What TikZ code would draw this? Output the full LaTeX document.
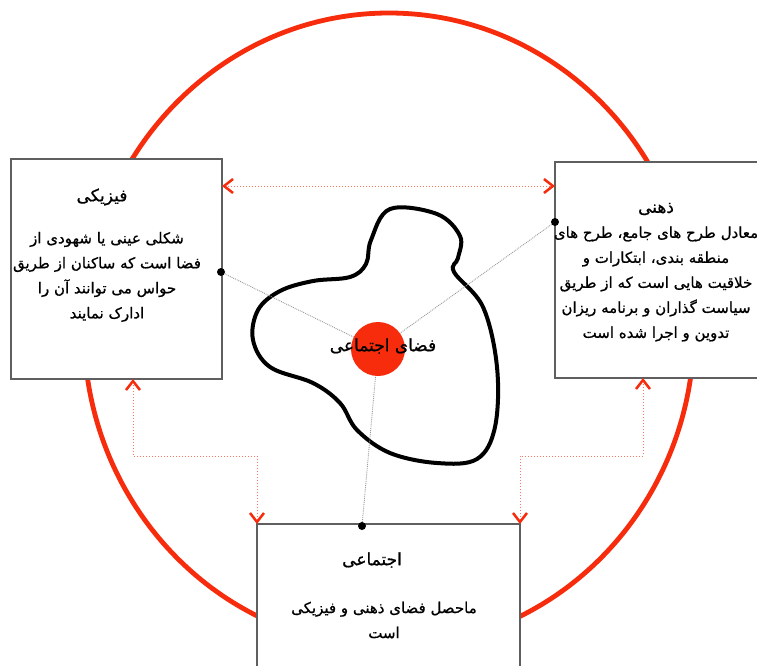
\documentclass[tikz,border=0pt]{standalone}
\usepackage{fontspec}
\usetikzlibrary{arrows.meta}
\TeXXeTstate=1
\newfontfamily\pfont[Script=Arabic,FakeBold=0.7]{DejaVu Sans}
\newcommand\myR[1]{\beginR #1\endR}
\definecolor{cred}{RGB}{246,44,12}
\definecolor{boxgray}{RGB}{95,95,95}
\tikzset{
  boxnode/.style={draw=boxgray, line width=1.5pt, fill=white, rectangle, inner sep=0pt},
  txt/.style={align=center, inner sep=0pt, font=\pfont\fontsize{15}{25}\selectfont},
  ttl/.style={align=center, inner sep=0pt, font=\pfont\fontsize{17}{25}\selectfont},
  link/.style={draw=gray!80, densely dotted, line width=0.9pt},
  tipR/.tip={Straight Barb[length=9pt,width=14pt,line width=2.5pt,color=cred]},
  flow/.style={draw=cred!65, dotted, line width=1pt, tipR-tipR},
  dotnode/.style={circle, fill=black, inner sep=0pt, minimum size=8pt}
}
\begin{document}
\begin{tikzpicture}[x=1pt,y=-1pt]
\clip (0,0) rectangle (757,665);
\fill[white] (0,0) rectangle (757,665);
% outer red ring
\draw[cred, line width=4.8pt] (389,330) ellipse [x radius=305, y radius=317];
% blob
\draw[black, line width=4pt] plot[smooth cycle, tension=0.6] coordinates {
 (371,240) (390,209) (437,214) (460,236) (458,258) (454,272) (483,307) (497,367)
 (495,427) (477,459) (437,463) (390,453) (357,430) (340,403) (313,383)
 (270,367) (253,340) (258,310) (280,291) (313,281) (350,277) (366,264)};
% boxes
\node[boxnode, minimum width=211pt, minimum height=220pt] (L) at (116.5,269) {};
\node[boxnode, minimum width=220pt, minimum height=216pt] (R) at (665,270) {};
\node[boxnode, minimum width=263pt, minimum height=170pt] (B) at (388.5,609) {};
% anchor coordinates on box borders
\coordinate (tL) at (222,186);
\coordinate (tR) at (555,186);
\coordinate (lb) at (133,379);
\coordinate (bl) at (257,524);
\coordinate (rb) at (643,378);
\coordinate (br) at (520,524);
% flows
\draw[flow] (tL) -- (tR);
\draw[flow] (lb) -- (133,456) -- (257,456) -- (bl);
\draw[flow] (rb) -- (643,456) -- (520,456) -- (br);
% core
\node[circle, fill=cred, minimum size=54pt, inner sep=0pt] (core) at (378,349) {};
\node[dotnode] (dL) at (221,272) {};
\node[dotnode] (dR) at (555,222) {};
\node[dotnode] (dB) at (362,526) {};
\draw[link] (dL) -- (core);
\draw[link] (dR) -- (core);
\draw[link] (dB) -- (core);
\node[ttl] (coreT) at (383,346) {\myR{فضای اجتماعی}};
% left box texts
\node[ttl] (Lt) at (102,197) {\myR{فیزیکی}};
\node[txt] (Lb) at (107,277) {\myR{شکلی عینی یا شهودی  از}\\\myR{فضا است که ساکنان  از طریق}\\\myR{حواس می توانند آن را}\\\myR{ادارک نمایند}};
% right box texts
\node[ttl] (Rt) at (656,209) {\myR{ذهنی}};
\node[txt] (Rb) at (656,284) {\myR{معادل طرح های جامع، طرح های}\\\myR{منطقه بندی، ابتکارات و}\\\myR{خلاقیت هایی است که از طریق}\\\myR{سیاست گذاران و برنامه ریزان}\\\myR{تدوین و اجرا شده است}};
% bottom box texts
\node[ttl] (Bt) at (372,560) {\myR{اجتماعی}};
\node[txt] (Bb) at (384,620) {\myR{ماحصل فضای ذهنی و فیزیکی}\\\myR{است}};
\end{tikzpicture}
\end{document}
